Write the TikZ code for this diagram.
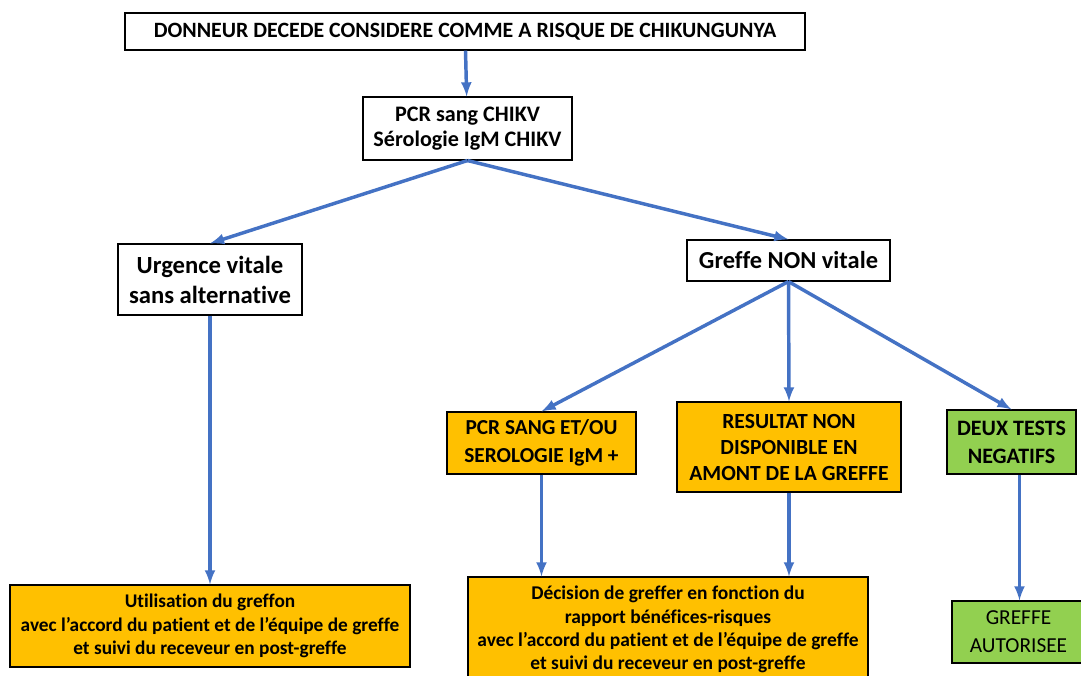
\documentclass[tikz,border=0pt]{standalone}
\usepackage{fontspec}
\setmainfont[Ligatures=NoCommon]{Carlito}
\usepackage{tikz}
\usetikzlibrary{arrows}
\usetikzlibrary{shapes,positioning,calc}

\definecolor{flowblue}{HTML}{4472C4}
\definecolor{flowgold}{HTML}{FFC000}
\definecolor{flowgreen}{HTML}{92D050}

\begin{document}
\begin{tikzpicture}[>=latex, x=0.75pt, y=-0.75pt,
		box/.style={draw=black, line width=0.8pt, fill=white, align=center, inner sep=0pt, font=\bfseries},
		goldbox/.style={box, fill=flowgold},
		greenbox/.style={box, fill=flowgreen},
		flow/.style={->, draw=flowblue, line width=2.6pt}]
		\useasboundingbox (0,0) rectangle (1081,675);
		% first level
		\node[box, minimum width=510pt, minimum height=27.75pt, font=\bfseries\fontsize{16.4}{18}\selectfont] (donneur) at (465,31.5) {DONNEUR DECEDE CONSIDERE COMME A RISQUE DE CHIKUNGUNYA};
		\node[box, minimum width=156.75pt, minimum height=47.25pt, font=\bfseries\fontsize{16.6}{19}\selectfont] (pcr) at (467.5,128.5) {PCR sang CHIKV\\S\'erologie IgM CHIKV};
		% urgence / non vitale
		\node[box, minimum width=138pt, minimum height=53.25pt, font=\bfseries\fontsize{18.5}{22.5}\selectfont] (urgence) at (210,279.5) {Urgence vitale\\sans alternative};
		\node[box, minimum width=152.25pt, minimum height=30.75pt, font=\bfseries\fontsize{18.3}{21}\selectfont] (nonvitale) at (788.5,260.5) {Greffe NON vitale};
		% results
		\node[goldbox, minimum width=141.75pt, minimum height=46.5pt, font=\bfseries\fontsize{16}{21}\selectfont] (positif) at (541.5,443) {PCR SANG ET/OU\\SEROLOGIE IgM +};
		\node[goldbox, minimum width=168pt, minimum height=67.5pt, font=\bfseries\fontsize{16.2}{19.5}\selectfont] (attente) at (789,447) {RESULTAT NON\\DISPONIBLE EN\\AMONT DE LA GREFFE};
		\node[greenbox, minimum width=96.75pt, minimum height=48pt, font=\bfseries\fontsize{16.5}{21}\selectfont] (negatif) at (1011.5,442) {DEUX TESTS\\NEGATIFS};
		% decisions
		\node[goldbox, minimum width=300pt, minimum height=61.5pt, font=\bfseries\fontsize{14.5}{17.6}\selectfont] (utilisation) at (210,626) {Utilisation du greffon\\avec l'accord du patient et de l'\'equipe de greffe\\et suivi du receveur en post-greffe};
		\node[goldbox, minimum width=300pt, minimum height=78.75pt, font=\bfseries\fontsize{14.6}{17.5}\selectfont] (decision) at (668,629.5) {D\'ecision de greffer en fonction du\\rapport b\'en\'efices-risques\\avec l'accord du patient et de l'\'equipe de greffe\\et suivi du receveur en post-greffe};
		\node[greenbox, minimum width=99.75pt, minimum height=46.5pt, font=\fontsize{16}{21}\selectfont] (autorise) at (1018.5,632) {GREFFE\\AUTORISEE};
		% arrows
		\draw[flow] (donneur) -- (pcr);
		\draw[flow] (pcr.south) -- (urgence.north);
		\draw[flow] (pcr.south) -- (nonvitale.north);
		\draw[flow] (urgence) -- (utilisation);
		\draw[flow] (nonvitale.south) -- (positif.north);
		\draw[flow] (nonvitale.south) -- (attente.north);
		\draw[flow] (nonvitale.south) -- (negatif.north);
		\draw[flow] (positif.south) -- (positif.south |- decision.north);
		\draw[flow] (attente.south) -- (attente.south |- decision.north);
		\draw[flow] ([xshift=6pt]negatif.south) -- ([xshift=6pt]negatif.south |- autorise.north);
\end{tikzpicture}
\end{document}
